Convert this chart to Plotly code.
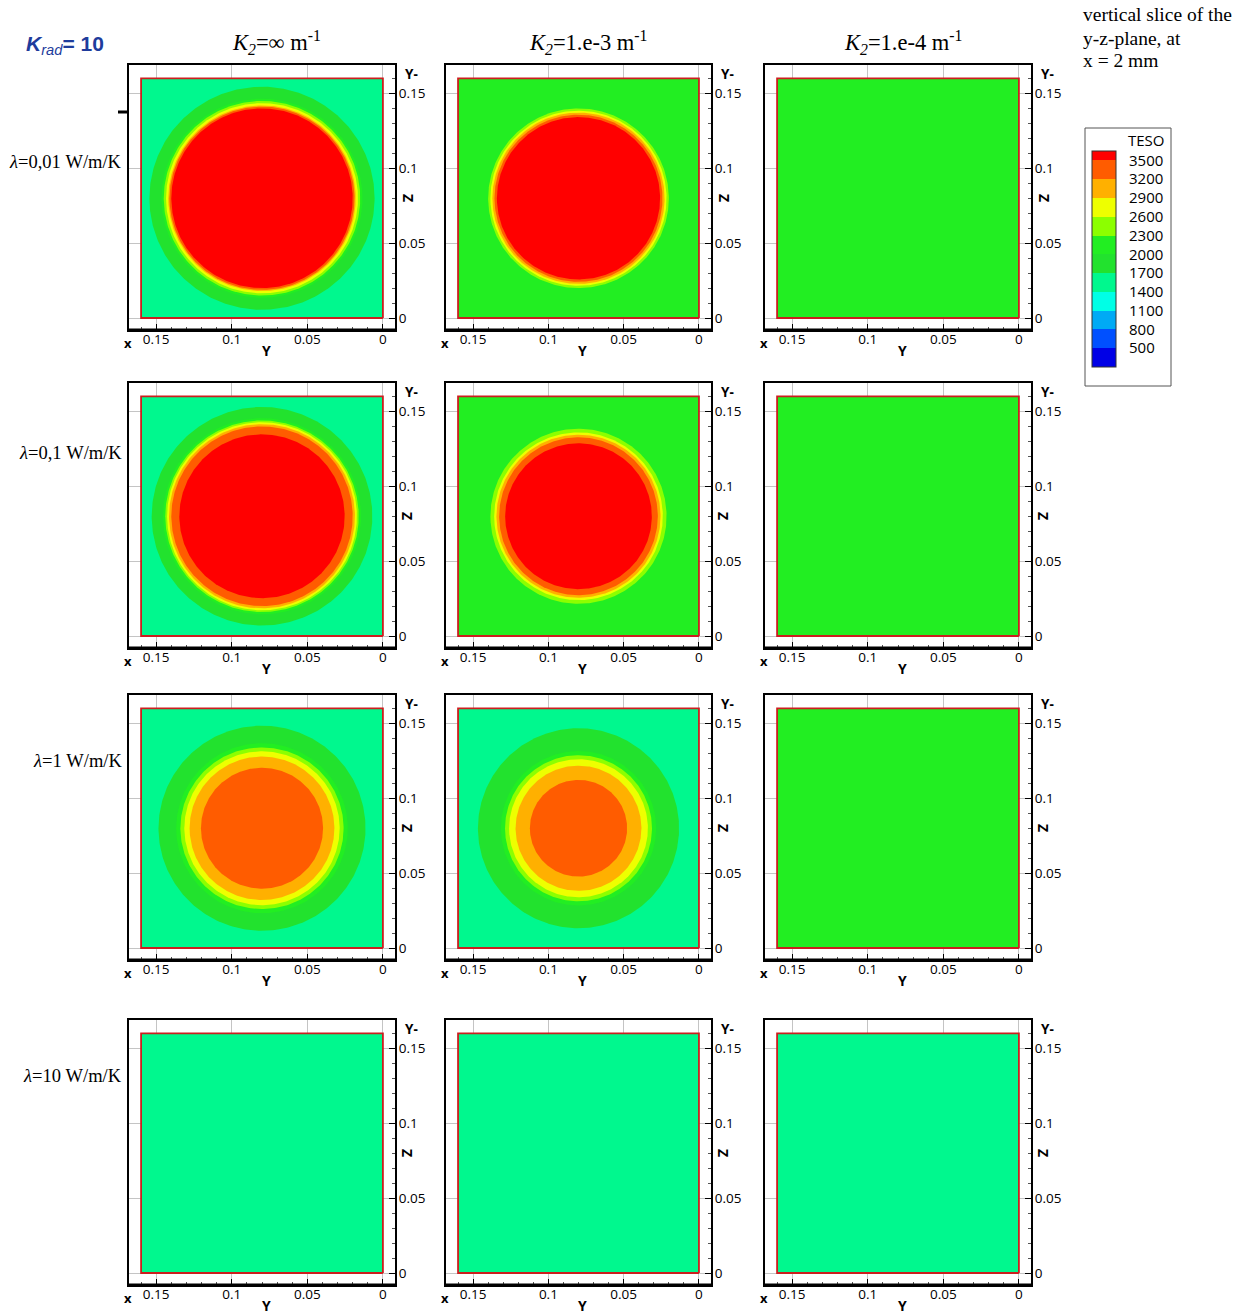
import numpy as np
import plotly.graph_objects as go

W, H = 1248, 1315

# TESO isotherm levels and the contour band colours (below 500 ... above 3500)
levels = [500, 800, 1100, 1400, 1700, 2000, 2300, 2600, 2900, 3200, 3500]
band_colors = ["#0000e6", "#0050ff", "#00aaf5", "#00ffe6", "#00f88e",
               "#22e22e", "#22ee22", "#8cff00", "#eeff00", "#ffb000",
               "#ff5c00", "#ff0000"]
legend_min, legend_max = 200, 3650

col_titles = ["<i>K</i><sub><i>2</i></sub>=\u221e m<sup>-1</sup>",
              "<i>K</i><sub><i>2</i></sub>=1.e-3 m<sup>-1</sup>",
              "<i>K</i><sub><i>2</i></sub>=1.e-4 m<sup>-1</sup>"]
row_labels = ["<i>\u03bb</i>=0,01 W/m/K", "<i>\u03bb</i>=0,1 W/m/K",
              "<i>\u03bb</i>=1 W/m/K", "<i>\u03bb</i>=10 W/m/K"]

tick_vals = [0, 0.05, 0.1, 0.15]
tick_text = ["0", "0.05", "0.1", "0.15"]

# slice geometry (m)
slice_size = 0.16
centre_y, centre_z = 0.08, 0.08

# temperature at the slice edge for each row (columns: K2 = inf, 1e-3, 1e-4)
edge_temp = [
    [1550, 2150, 2150],
    [1550, 2150, 2150],
    [1550, 1550, 2150],
    [1550, 1550, 1550],
]

# radius (m) of each isotherm about the slice centre, aligned with `levels`;
# None where the isotherm does not appear in the slice
iso_r11 = [None, None, None, None, 0.0745, 0.0665, 0.0650, 0.0635, 0.0620, 0.0612, 0.0600]
iso_r12 = [None, None, None, None, None, None, 0.0600, 0.0585, 0.0572, 0.0558, 0.0542]
iso_r13 = [None] * 11
iso_r21 = [None, None, None, None, 0.0730, 0.0655, 0.0640, 0.0628, 0.0615, 0.0600, 0.0547]
iso_r22 = [None, None, None, None, None, None, 0.0585, 0.0560, 0.0545, 0.0527, 0.0487]
iso_r23 = [None] * 11
iso_r31 = [None, None, None, None, 0.0685, 0.0568, 0.0540, 0.0514, 0.0479, 0.0404, None]
iso_r32 = [None, None, None, None, 0.0668, 0.0516, 0.0488, 0.0461, 0.0418, 0.0323, None]
iso_r33 = [None] * 11
iso_r41 = [None] * 11
iso_r42 = [None] * 11
iso_r43 = [None] * 11

iso_radius = [
    [iso_r11, iso_r12, iso_r13],
    [iso_r21, iso_r22, iso_r23],
    [iso_r31, iso_r32, iso_r33],
    [iso_r41, iso_r42, iso_r43],
]

# panel frames on the page (pixels)
col_px = [(129, 395), (446, 711), (765, 1031)]
row_px = [(65, 330), (383, 648), (695, 960), (1020, 1285)]
title_x = [276, 588, 903]
row_label_y = [162, 453, 761, 1076]

x_range = [0.168, -0.008]
y_range = [-0.008, 0.169]


def band_color(temp):
    return band_colors[sum(1 for lv in levels if temp >= lv)]


def px(x, y):
    return x / W, 1 - y / H


serif = "Liberation Serif"
sans = "Open Sans"

fig = go.Figure()
layout = dict(
    width=W, height=H, margin=dict(l=0, r=0, t=0, b=0),
    paper_bgcolor="white", plot_bgcolor="white", showlegend=False,
)
annotations = []
shapes = []

theta = np.linspace(0, 2 * np.pi, 361)

for r in range(4):
    for c in range(3):
        k = r * 3 + c + 1
        xa = "x" if k == 1 else f"x{k}"
        ya = "y" if k == 1 else f"y{k}"
        xl, xr = col_px[c]
        yt, yb = row_px[r]
        axis_common = dict(
            showgrid=True, gridcolor="#c4c4c4", gridwidth=1, zeroline=False,
            showline=True, linecolor="black", linewidth=2, mirror=True,
            ticks="inside", ticklen=6, tickcolor="black", tickwidth=1,
            tickvals=tick_vals, ticktext=tick_text,
            tickfont=dict(family=sans, size=13.5, color="black"),
            minor=dict(dtick=0.01, tick0=0, ticks="inside", ticklen=3,
                       tickcolor="#555", showgrid=False),
            fixedrange=True,
        )
        layout["xaxis" if k == 1 else f"xaxis{k}"] = dict(
            axis_common, domain=[xl / W, xr / W], range=x_range,
            anchor=ya, side="bottom", ticklabelstandoff=-4)
        layout["yaxis" if k == 1 else f"yaxis{k}"] = dict(
            axis_common, domain=[1 - yb / H, 1 - yt / H], range=y_range,
            anchor=xa, side="right", ticklabelstandoff=-1)

        # slice area at edge temperature
        sq_y = [0, slice_size, slice_size, 0, 0]
        sq_z = [0, 0, slice_size, slice_size, 0]
        fig.add_trace(go.Scatter(
            x=sq_y, y=sq_z, xaxis=xa, yaxis=ya, mode="lines", fill="toself",
            fillcolor=band_color(edge_temp[r][c]), line=dict(width=0),
            hoverinfo="skip"))

        # isotherm discs, largest first
        radii = iso_radius[r][c]
        for lv, rad in zip(levels, radii):
            if rad is None:
                continue
            fig.add_trace(go.Scatter(
                x=centre_y + rad * np.cos(theta), y=centre_z + rad * np.sin(theta),
                xaxis=xa, yaxis=ya, mode="lines", fill="toself",
                fillcolor=band_color(lv), line=dict(width=0), hoverinfo="skip"))

        # slice boundary
        fig.add_trace(go.Scatter(
            x=sq_y, y=sq_z, xaxis=xa, yaxis=ya, mode="lines",
            line=dict(color="#cc1e1e", width=1.8), hoverinfo="skip"))

        # heavier bottom frame line
        shapes.append(dict(type="line", xref="paper", yref="paper",
                           x0=xl / W, x1=xr / W, y0=1 - yb / H, y1=1 - yb / H,
                           line=dict(color="black", width=3)))

        # axis captions
        ax, ay = px(xr + 8, yt + 9)
        annotations.append(dict(x=ax, y=ay, xref="paper", yref="paper",
                                text="<b>Y-</b>", showarrow=False, xanchor="left",
                                yanchor="middle",
                                font=dict(family=sans, size=13.5, color="black")))
        ax, ay = px(xr + 13, yt + 133)
        annotations.append(dict(x=ax, y=ay, xref="paper", yref="paper",
                                text="<b>Z</b>", showarrow=False, textangle=90,
                                xanchor="center", yanchor="middle",
                                font=dict(family=sans, size=14, color="black")))
        ax, ay = px(xl - 1, yb + 13)
        annotations.append(dict(x=ax, y=ay, xref="paper", yref="paper",
                                text="<b>x</b>", showarrow=False,
                                xanchor="center", yanchor="middle",
                                font=dict(family=sans, size=13, color="black")))
        ax, ay = px((xl + xr) / 2 + 4, yb + 20)
        annotations.append(dict(x=ax, y=ay, xref="paper", yref="paper",
                                text="<b>Y</b>", showarrow=False,
                                xanchor="center", yanchor="middle",
                                font=dict(family=sans, size=14, color="black")))

# column headings
for c, t in enumerate(col_titles):
    ax, ay = px(title_x[c], 43)
    annotations.append(dict(x=ax, y=ay, xref="paper", yref="paper", text=t,
                            showarrow=False, xanchor="center", yanchor="middle",
                            font=dict(family=serif, size=22.5, color="black")))

# row headings
for r, t in enumerate(row_labels):
    ax, ay = px(124, row_label_y[r])
    annotations.append(dict(x=ax, y=ay, xref="paper", yref="paper", text=t,
                            showarrow=False, xanchor="right", yanchor="middle",
                            font=dict(family=serif, size=18.5, color="black")))

ax, ay = px(24, 45)
annotations.append(dict(
    x=ax, y=ay, xref="paper", yref="paper", xanchor="left", yanchor="middle",
    text="<b><i>K</i></b><sub><i>rad</i></sub><b>= 10</b>", showarrow=False,
    font=dict(family="Liberation Sans", size=21, color="#1e3c9c")))

for i, line in enumerate(["vertical slice of the", "y-z-plane, at", "x = 2 mm"]):
    ax, ay = px(1081, 15 + 23 * i)
    annotations.append(dict(x=ax, y=ay, xref="paper", yref="paper",
                            xanchor="left", yanchor="middle", text=line,
                            showarrow=False,
                            font=dict(family=serif, size=19.5, color="black")))

# TESO colour legend
bounds = [legend_min] + levels + [legend_max]
colorscale = []
for i, col in enumerate(band_colors):
    lo = (bounds[i] - legend_min) / (legend_max - legend_min)
    hi = (bounds[i + 1] - legend_min) / (legend_max - legend_min)
    colorscale += [[lo, col], [hi, col]]

bar_top, bar_len = 151, 216
fig.add_trace(go.Scatter(
    x=[None], y=[None], mode="markers", hoverinfo="skip",
    marker=dict(color=[legend_min], cmin=legend_min, cmax=legend_max,
                colorscale=colorscale, showscale=True,
                colorbar=dict(
                    x=1092 / W, xanchor="left", y=1 - bar_top / H, yanchor="top",
                    len=bar_len, lenmode="pixels", thickness=24,
                    thicknessmode="pixels", xpad=0, ypad=0,
                    outlinewidth=1, outlinecolor="#333", borderwidth=0,
                    tickvals=levels, ticktext=[str(v) for v in levels],
                    ticks="outside", ticklen=10, tickcolor="rgba(0,0,0,0)",
                    tickfont=dict(family=sans, size=15, color="black"))),
))
for lv in levels:
    yy = bar_top + bar_len * (legend_max - lv) / (legend_max - legend_min)
    shapes.append(dict(type="line", xref="paper", yref="paper",
                       x0=1092 / W, x1=1116 / W, y0=1 - yy / H, y1=1 - yy / H,
                       line=dict(color="#333", width=1)))
shapes.append(dict(type="rect", xref="paper", yref="paper",
                   x0=1085 / W, x1=1171 / W, y0=1 - 386 / H, y1=1 - 128 / H,
                   line=dict(color="#555", width=1), layer="below"))
ax, ay = px(1146, 140)
annotations.append(dict(x=ax, y=ay, xref="paper", yref="paper", text="TESO",
                        showarrow=False, xanchor="center", yanchor="middle",
                        font=dict(family=sans, size=15, color="black")))

# small frame marker left of the first panel
shapes.append(dict(type="line", xref="paper", yref="paper",
                   x0=118 / W, x1=128 / W, y0=1 - 112 / H, y1=1 - 112 / H,
                   line=dict(color="black", width=3)))

layout["annotations"] = annotations
layout["shapes"] = shapes
fig.update_layout(**layout)
fig.write_html("out.html")
